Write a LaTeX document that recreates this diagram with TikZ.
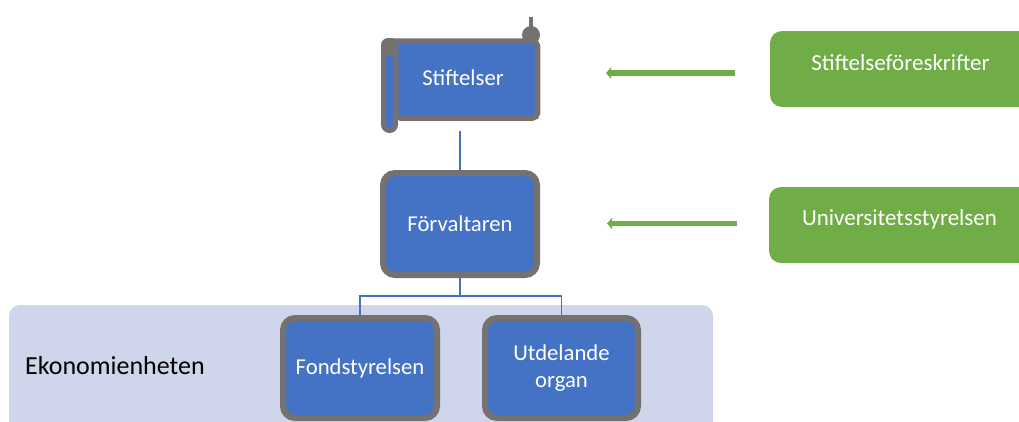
\documentclass[tikz,border=0pt]{standalone}
\usepackage{fontspec}
\setmainfont{Carlito}
\usetikzlibrary{arrows.meta}
\definecolor{blafyll}{HTML}{4472C4}
\definecolor{gralinje}{HTML}{767171}
\definecolor{gronfyll}{HTML}{70AD47}
\definecolor{panelfyll}{HTML}{CFD5EA}
\tikzset{
  organ/.style={draw=gralinje,line width=6pt,fill=blafyll,rounded corners=12pt,text=white,align=center,font=\fontsize{22.7}{27}\selectfont,inner sep=0pt},
  organtext/.style={text=white,align=center,font=\fontsize{22.7}{27}\selectfont,inner sep=0pt},
  instans/.style={fill=gronfyll,rounded corners=12pt,minimum width=261pt,minimum height=76pt,inner sep=0pt},
  instanstext/.style={text=white,inner sep=0pt,font=\fontsize{23}{27}\selectfont},
  linje/.style={draw=blafyll,line width=1.3pt},
  pil/.style={draw=gronfyll,line width=5.5pt,-{Triangle[length=5pt,width=11pt]}}
}
\begin{document}
\begin{tikzpicture}[x=1pt,y=-1pt]
\useasboundingbox (0,0) rectangle (1019,421);
\clip (0,0) rectangle (1019,421);
\fill[panelfyll,rounded corners=11pt] (9,305) rectangle (713,440); % panel
\node[anchor=west,inner sep=0pt,font=\fontsize{26}{30}\selectfont] (ekonomi) at (25,366) {Ekonomienheten};
% rullen
\draw[gralinje,line width=4.7pt] (531,17) -- (531,30);
\fill[gralinje] (531,35) circle (9);
\draw[gralinje,line width=5.5pt,fill=blafyll,rounded corners=5pt] (384,41) -- (537.5,41) -- (537.5,118) -- (395.5,118) -- (395.5,41) -- cycle;
\draw[gralinje,line width=5pt,fill=blafyll] (383.5,50) -- (383.5,124.5) arc[start angle=180,end angle=0,radius=6] -- (395.5,50);
\fill[gralinje,rounded corners=7pt] (381,38) rectangle (398,56);
\node[organtext] (stiftelser) at (463,78) {Stiftelser};
\coordinate (rullfot) at (460,131);
% organen
\node[organ,minimum width=154pt,minimum height=102pt] (forvaltaren) at (460,224) {Förvaltaren};
\node[organ,minimum width=154pt,minimum height=100pt] (fondstyrelsen) at (360,368) {Fondstyrelsen};
\node[organ,minimum width=153pt,minimum height=100pt] (utdelande) at (561.5,368) {Utdelande\\organ};
\coordinate (gren) at (460,296);
\draw[linje] (rullfot) -- (forvaltaren.north);
\draw[linje] (forvaltaren.south) -- (gren);
\draw[linje] (gren) -| (fondstyrelsen.north);
\draw[linje] (gren) -| (utdelande.north);
% instanserna
\node[instans] (foreskrifter) at (900.5,69) {};
\node[instans] (universitet) at (899.5,225) {};
\node[instanstext] (foreskriftertext) at (900.5,63) {Stiftelseföreskrifter};
\node[instanstext] (universitettext) at (899.5,219) {Universitetsstyrelsen};
\coordinate (pil1a) at (735,73);
\coordinate (pil1b) at (606,73);
\coordinate (pil2a) at (736.5,223.5);
\coordinate (pil2b) at (607,223.5);
\draw[pil] (pil1a) -- (pil1b);
\draw[pil] (pil2a) -- (pil2b);
\end{tikzpicture}
\end{document}
